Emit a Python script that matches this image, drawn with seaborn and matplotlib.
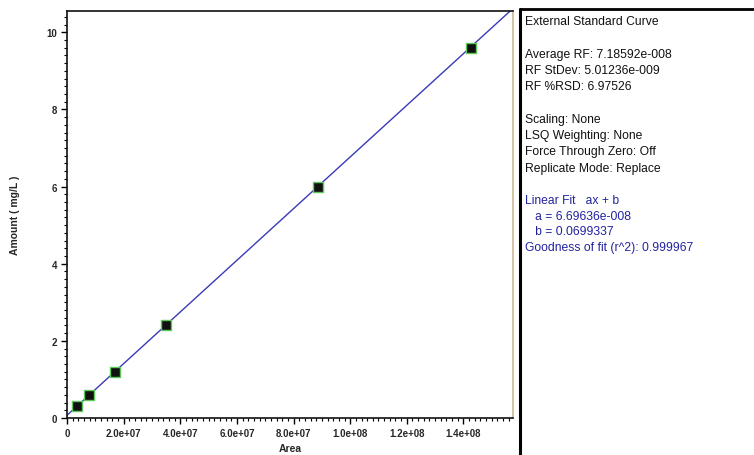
import numpy as np
import pandas as pd
import matplotlib
matplotlib.use("Agg")
import matplotlib.pyplot as plt
from matplotlib.lines import Line2D
from matplotlib.ticker import MultipleLocator, FixedFormatter, FixedLocator
import seaborn as sns

# ---- data ----
area = [3.6e6, 7.9e6, 1.70e7, 3.50e7, 8.86e7, 1.425e8]
amount = [0.3, 0.6, 1.2, 2.4, 6.0, 9.6]
fit_a = 6.69636e-8
fit_b = 0.0699337
x_ticks = [0, 2e7, 4e7, 6e7, 8e7, 1e8, 1.2e8, 1.4e8]
x_tick_labels = ["0", "2.0e+07", "4.0e+07", "6.0e+07", "8.0e+07", "1.0e+08", "1.2e+08", "1.4e+08"]
y_ticks = [0, 2, 4, 6, 8, 10]
y_tick_labels = ["0", "2", "4", "6", "8", "10"]
panel_black = [
    "External Standard Curve",
    "",
    "Average RF: 7.18592e-008",
    "RF StDev: 5.01236e-009",
    "RF %RSD: 6.97526",
    "",
    "Scaling: None",
    "LSQ Weighting: None",
    "Force Through Zero: Off",
    "Replicate Mode: Replace",
]
panel_blue = [
    "Linear Fit   ax + b",
    "   a = 6.69636e-008",
    "   b = 0.0699337",
    "Goodness of fit (r^2): 0.999967",
]

sns.set_theme(style="white")
plt.rcParams["font.family"] = ["Liberation Sans", "DejaVu Sans"]

W, H = 754, 456
fig = plt.figure(figsize=(W / 100, H / 100), dpi=100)
fig.patch.set_facecolor("white")
ax_l, ax_r, ax_t, ax_b = 67, 513, 12, 419
ax = fig.add_axes([ax_l / W, 1 - ax_b / H, (ax_r - ax_l) / W, (ax_b - ax_t) / H])

xmax, ymax = 1.575e8, 10.55
ax.set_xlim(0, xmax)
ax.set_ylim(0, ymax)

line_df = pd.DataFrame({"x": [0, xmax]})
line_df["y"] = fit_a * line_df["x"] + fit_b
sns.lineplot(data=line_df, x="x", y="y", ax=ax, color="#3a3ab8", linewidth=1.0)

df = pd.DataFrame({"Area": area, "Amount": amount})
sns.scatterplot(data=df, x="Area", y="Amount", ax=ax, marker="s", s=55,
                color="#111111", edgecolor="#5fc85a", linewidth=1.0, zorder=5)

ax.xaxis.set_major_locator(FixedLocator(x_ticks))
ax.xaxis.set_major_formatter(FixedFormatter(x_tick_labels))
ax.xaxis.set_minor_locator(MultipleLocator(2e6))
ax.yaxis.set_major_locator(FixedLocator(y_ticks))
ax.yaxis.set_major_formatter(FixedFormatter(y_tick_labels))
ax.yaxis.set_minor_locator(MultipleLocator(0.2))
ax.tick_params(axis="both", which="major", direction="out", length=4, width=1,
               color="black", labelsize=7, pad=3)
ax.tick_params(axis="both", which="minor", direction="out", length=2, width=0.8,
               color="black")
ax.tick_params(axis="x", bottom=True, which="both")
ax.tick_params(axis="y", left=True, which="both")
for lab in ax.get_xticklabels() + ax.get_yticklabels():
    lab.set_fontweight("bold")

for s in ["left", "bottom", "top"]:
    ax.spines[s].set_color("#111111")
    ax.spines[s].set_linewidth(1.2)
ax.spines["right"].set_color("#cbb896")
ax.spines["right"].set_linewidth(1.2)

ax.set_xlabel("Area", fontsize=7.5, fontweight="bold")
ax.set_ylabel("Amount ( mg/L )", fontsize=7.5, fontweight="bold")
ax.xaxis.set_label_coords(0.5, -(444 - ax_b) / (ax_b - ax_t))
ax.yaxis.set_label_coords(-(67 - 20) / (ax_r - ax_l), 0.5)

# right info panel
x0 = 520 / W
fig.add_artist(Line2D([x0, x0], [0, 1 - 10 / H], color="black", linewidth=2.2,
                      transform=fig.transFigure))
fig.add_artist(Line2D([x0, 1], [1 - 10 / H, 1 - 10 / H], color="black", linewidth=2.0,
                      transform=fig.transFigure))

ty = 22
for t in panel_black:
    if t:
        fig.text(525 / W, 1 - ty / H, t, fontsize=8.7, color="#111111", va="center", ha="left")
    ty += 16.3
ty = 201
for t in panel_blue:
    fig.text(525 / W, 1 - ty / H, t, fontsize=8.7, color="#2323a0", va="center", ha="left")
    ty += 15.7

fig.savefig("out.png", dpi=100, facecolor="white")
